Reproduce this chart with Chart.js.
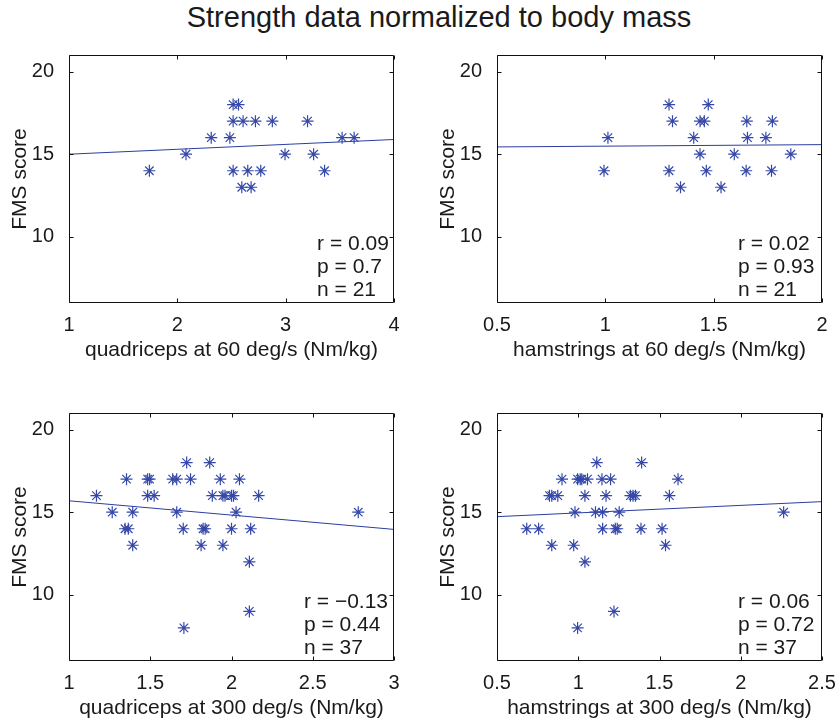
<!DOCTYPE html>
<html>
<head>
<meta charset="utf-8">
<script src="https://cdn.jsdelivr.net/npm/chart.js@4"></script>
<style>
  html, body { margin: 0; padding: 0; background: #fff; width: 840px; height: 720px; overflow: hidden; }
  .panel { position: absolute; width: 410px; height: 340px; }
  #title { position: absolute; left: 0; width: 878px; top: 3px; text-align: center;
           font: 29px/29px "Liberation Sans", Arial, sans-serif; color: #1a1a1a; }
</style>
</head>
<body>
<div id="title">Strength data normalized to body mass</div>
<div class="panel" style="left:0;top:36px"><canvas id="quad60"></canvas></div>
<div class="panel" style="left:428px;top:36px"><canvas id="ham60"></canvas></div>
<div class="panel" style="left:0;top:394px"><canvas id="quad300"></canvas></div>
<div class="panel" style="left:428px;top:394px"><canvas id="ham300"></canvas></div>
<script>
// quadriceps at 60 deg/s
const quad60X = [1.742, 2.080, 2.313, 2.485, 2.515, 2.565, 2.515, 2.607, 2.721, 2.877, 3.202,
                 2.994, 3.258, 2.515, 2.650, 2.770, 3.359, 2.595, 2.681, 3.521, 3.632];
const quad60Y = [14, 15, 16, 16, 18, 18, 17, 17, 17, 17, 17,
                 15, 15, 14, 14, 14, 14, 13, 13, 16, 16];
const quad60Fit = [15.0, 15.89];
const quad60Ticks = [1, 2, 3, 4];
const quad60Stats = ['r = 0.09', 'p = 0.7', 'n = 21'];

// hamstrings at 60 deg/s
const ham60X = [1.012, 0.994, 1.294, 1.475, 1.310, 1.437, 1.457, 1.653, 1.771, 1.408, 1.656,
                1.741, 1.437, 1.595, 1.856, 1.294, 1.466, 1.650, 1.767, 1.347, 1.534];
const ham60Y = [16, 14, 18, 18, 17, 17, 17, 17, 17, 16, 16,
                16, 15, 15, 15, 14, 14, 14, 14, 13, 13];
const ham60Fit = [15.44, 15.58];
const ham60Ticks = [0.5, 1, 1.5, 2];
const ham60Stats = ['r = 0.02', 'p = 0.93', 'n = 21'];

// quadriceps at 300 deg/s
const quad300X = [1.169, 1.266, 1.392, 1.345, 1.365, 1.392, 1.354, 1.484, 1.496, 1.484, 1.524, 1.638, 1.663,
                  1.748, 1.724, 1.866, 1.663, 1.703, 1.825, 1.838, 1.813, 1.947, 1.882, 1.947, 1.960,
                  2.000, 2.012, 1.931, 2.049, 2.028, 2.000, 2.118, 2.110, 2.167, 2.110, 1.707, 2.780];
const quad300Y = [16, 15, 15, 14, 14, 13, 17, 17, 17, 16, 16, 17, 17,
                  17, 18, 18, 15, 14, 14, 14, 13, 13, 16, 16, 16,
                  16, 16, 17, 17, 15, 14, 14, 12, 16, 9, 8, 15];
const quad300Fit = [15.69, 13.96];
const quad300Ticks = [1, 1.5, 2, 2.5, 3];
const quad300Stats = ['r = \u22120.13', 'p = 0.44', 'n = 37'];

// hamstrings at 300 deg/s
const ham300X = [0.683, 0.756, 0.837, 0.823, 0.837, 0.874, 0.900, 0.972, 0.980, 0.996, 1.012, 1.022, 1.057,
                 1.041, 1.041, 0.996, 1.114, 1.106, 1.150, 1.146, 1.199, 1.171, 1.150, 1.228, 1.240,
                 1.252, 1.220, 1.321, 1.337, 1.352, 1.390, 1.386, 1.516, 1.537, 1.561, 1.614, 2.264];
const ham300Y = [14, 14, 13, 16, 16, 16, 17, 13, 15, 17, 17, 17, 17,
                 16, 12, 8, 18, 15, 15, 17, 17, 16, 14, 14, 14,
                 15, 9, 16, 16, 16, 18, 14, 14, 13, 16, 17, 15];
const ham300Fit = [14.73, 15.64];
const ham300Ticks = [0.5, 1, 1.5, 2, 2.5];
const ham300Stats = ['r = 0.06', 'p = 0.72', 'n = 37'];

const fmsTicks = [10, 15, 20];

const FONT = '"Liberation Sans", Arial, sans-serif';
const MARK = '#3548a8';
const LINE = '#2b3ea0';
const STAT_Y = [9.55, 8.15, 6.75];

Chart.defaults.font.family = FONT;
Chart.defaults.color = '#1a1a1a';

// box with inward ticks + r/p/n text
const framePlugin = {
    id: 'frame',
    afterDraw(chart, args, opts) {
        const { ctx, chartArea: a, scales: { x, y } } = chart;
        const l = Math.round(a.left) + 0.5, r = Math.round(a.right) - 0.5;
        const t = Math.round(a.top) + 0.5, b = Math.round(a.bottom) - 0.5;
        ctx.save();
        ctx.strokeStyle = '#111';
        ctx.lineWidth = 1;
        ctx.beginPath();
        ctx.rect(l, t, r - l, b - t);
        x.ticks.forEach(tk => {
            const px = Math.round(x.getPixelForValue(tk.value)) + 0.5;
            ctx.moveTo(px, b); ctx.lineTo(px, b - 4);
            ctx.moveTo(px, t); ctx.lineTo(px, t + 4);
        });
        y.ticks.forEach(tk => {
            const py = Math.round(y.getPixelForValue(tk.value)) + 0.5;
            ctx.moveTo(l, py); ctx.lineTo(l + 4, py);
            ctx.moveTo(r, py); ctx.lineTo(r - 4, py);
        });
        ctx.stroke();

        ctx.fillStyle = '#1a1a1a';
        ctx.font = '21px ' + FONT;
        ctx.textAlign = 'left';
        ctx.textBaseline = 'middle';
        opts.stats.forEach((s, i) => {
            ctx.fillText(s, x.getPixelForValue(opts.statX), y.getPixelForValue(STAT_Y[i]));
        });
        ctx.restore();
    }
};

function makePanel(id, xs, ys, fit, ticks, label, stats, statX) {
    const xMin = ticks[0], xMax = ticks[ticks.length - 1];
    new Chart(document.getElementById(id), {
        type: 'scatter',
        data: {
            datasets: [{
                data: xs.map((v, i) => ({ x: v, y: ys[i] })),
                pointStyle: 'star',
                pointRadius: 6,
                borderColor: MARK,
                backgroundColor: MARK,
                borderWidth: 1.2
            }, {
                data: [{ x: xMin, y: fit[0] }, { x: xMax, y: fit[1] }],
                showLine: true,
                pointRadius: 0,
                borderColor: LINE,
                borderWidth: 1
            }]
        },
        options: {
            responsive: true,
            maintainAspectRatio: false,
            animation: false,
            layout: { autoPadding: false, padding: { top: 10, right: 16, left: 0, bottom: 0 } },
            plugins: {
                legend: { display: false },
                tooltip: { enabled: false },
                frame: { stats: stats, statX: statX }
            },
            scales: {
                x: {
                    type: 'linear',
                    min: xMin,
                    max: xMax,
                    grid: { display: false },
                    border: { display: false },
                    afterBuildTicks: s => { s.ticks = ticks.map(v => ({ value: v })); },
                    afterFit: s => { s.height = 73; },
                    ticks: { font: { size: 20 }, padding: 2, maxRotation: 0, callback: v => String(v) },
                    title: { display: true, text: label, font: { size: 21 }, padding: { top: 0, bottom: 13 } }
                },
                y: {
                    type: 'linear',
                    min: 6,
                    max: 21,
                    grid: { display: false },
                    border: { display: false },
                    afterBuildTicks: s => { s.ticks = fmsTicks.map(v => ({ value: v })); },
                    afterFit: s => { s.width = 69; },
                    ticks: { font: { size: 20 }, padding: 7, callback: v => String(v) },
                    title: { display: true, text: 'FMS score', font: { size: 21 }, padding: { top: 8, bottom: 0 } }
                }
            }
        },
        plugins: [framePlugin]
    });
}

makePanel('quad60', quad60X, quad60Y, quad60Fit, quad60Ticks, 'quadriceps at 60 deg/s (Nm/kg)', quad60Stats, 3.29);
makePanel('ham60', ham60X, ham60Y, ham60Fit, ham60Ticks, 'hamstrings at 60 deg/s (Nm/kg)', ham60Stats, 1.612);
makePanel('quad300', quad300X, quad300Y, quad300Fit, quad300Ticks, 'quadriceps at 300 deg/s (Nm/kg)', quad300Stats, 2.446);
makePanel('ham300', ham300X, ham300Y, ham300Fit, ham300Ticks, 'hamstrings at 300 deg/s (Nm/kg)', ham300Stats, 1.983);
</script>
</body>
</html>
